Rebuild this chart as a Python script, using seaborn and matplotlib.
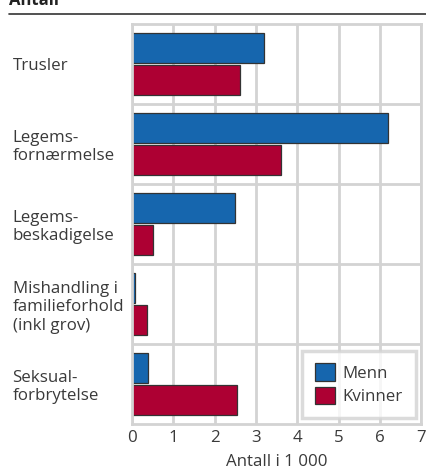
import seaborn as sns
import pandas as pd
import matplotlib.pyplot as plt
from matplotlib.lines import Line2D

# Data
kategorier = ['Trusler', 'Legems-\nfornærmelse', 'Legems-\nbeskadigelse',
              'Mishandling i\nfamilieforhold\n(inkl grov)', 'Seksual-\nforbrytelse']
menn = [3.2, 6.2, 2.5, 0.08, 0.38]
kvinner = [2.6, 3.6, 0.5, 0.37, 2.55]
xticks = [0, 1, 2, 3, 4, 5, 6, 7]

df = pd.DataFrame({
    'kategori': kategorier * 2,
    'antall': menn + kvinner,
    'kjonn': ['Menn'] * len(menn) + ['Kvinner'] * len(kvinner),
})

sns.set_style("white")
plt.rcParams['font.family'] = ['Open Sans', 'DejaVu Sans']

fig = plt.figure(figsize=(4.27, 4.72), dpi=100)
ax = fig.add_axes([132 / 427, 48 / 472, 289.5 / 427, 400 / 472])

grid_col = '#d3d3d3'
txt_col = '#3a3a3a'
fs = 12.2
ax.set_axisbelow(True)
for x in xticks:
    ax.axvline(x, color=grid_col, lw=2, zorder=0)
for y in [0.5, 1.5, 2.5, 3.5]:
    ax.axhline(y, color=grid_col, lw=2, zorder=0)

sns.barplot(data=df, x='antall', y='kategori', hue='kjonn', orient='h',
            palette={'Menn': '#1666ae', 'Kvinner': '#ad0033'},
            width=0.8, gap=0.07, edgecolor='#333333', linewidth=0.9,
            saturation=1, ax=ax)

ax.set_xlim(0, 7)
ax.set_ylim(4.5, -0.5)
ax.set_xticks(xticks)
ax.set_xticklabels([str(x) for x in xticks], fontsize=fs, color=txt_col)
ax.set_yticks(range(len(kategorier)))
ax.set_yticklabels(kategorier, fontsize=fs, color=txt_col, ha='left',
                   linespacing=1.2)
ax.tick_params(axis='y', length=0, pad=86)
ax.tick_params(axis='x', length=0, pad=4)
ax.set_ylabel('')
ax.set_xlabel('Antall i 1 000', fontsize=fs, color=txt_col, labelpad=6)

for s in ax.spines.values():
    s.set_color(grid_col)
    s.set_linewidth(2)

leg = ax.legend(loc='lower right', bbox_to_anchor=(0.98, 0.015),
                borderaxespad=0, fancybox=False, fontsize=fs,
                handlelength=1.2, handleheight=1.2, handletextpad=0.45,
                labelspacing=0.3, borderpad=0.75, title=None)
leg.get_frame().set_edgecolor(grid_col)
leg.get_frame().set_linewidth(2.5)
for t in leg.get_texts():
    t.set_color(txt_col)

fig.text(9 / 427, 1 - 5 / 472, 'Antall', fontsize=12, fontweight='bold',
         color='#222222', va='baseline', ha='left')
fig.add_artist(Line2D([9 / 427, 1], [1 - 14 / 472, 1 - 14 / 472],
                      color='#333333', lw=1.2))

fig.savefig('out.png', dpi=100)
